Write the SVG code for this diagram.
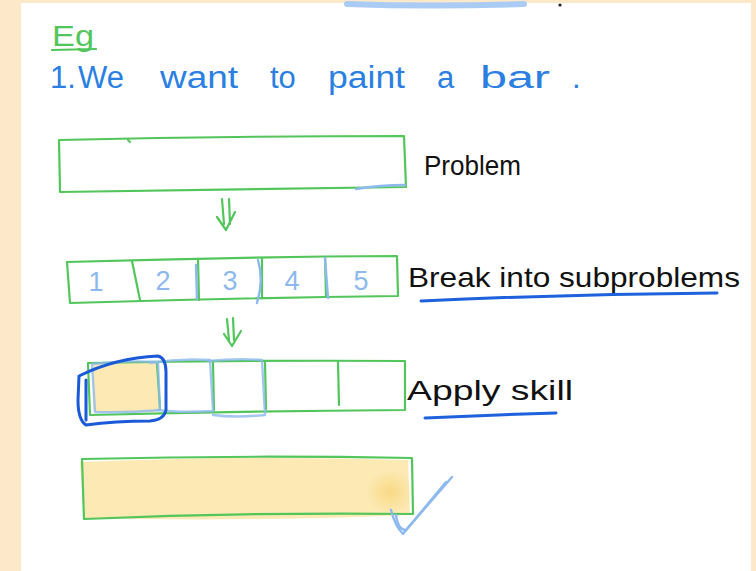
<svg xmlns="http://www.w3.org/2000/svg" width="756" height="571" viewBox="0 0 756 571">
  <style>
    .frame { fill: #fde8c9; }
    .sheet { fill: #ffffff; }
    .green { fill: none; stroke: #52c65b; stroke-width: 2.2; stroke-linecap: round; stroke-linejoin: round; }
    .lblue { fill: none; stroke: #8db9ef; stroke-width: 2.4; stroke-linecap: round; stroke-linejoin: round; }
    .dblue { fill: none; stroke: #1a5ad8; stroke-width: 3; stroke-linecap: round; stroke-linejoin: round; }
    .uline { fill: none; stroke: #1d62dc; stroke-width: 3; stroke-linecap: round; }
    .hand { font-family: "Liberation Sans", "DejaVu Sans", sans-serif; }
    .ink { fill: #111111; font-size: 28px; }
    .blue { fill: #2b7fe3; font-size: 31px; }
    .num { fill: #8db9ef; font-size: 27px; text-anchor: middle; }
    .paint { fill: #fce9b4; }
  </style>
  <defs>
    <radialGradient id="thickPaint" cx="0.5" cy="0.5" r="0.5">
      <stop offset="0" stop-color="#f8d77f" stop-opacity="0.9"/>
      <stop offset="1" stop-color="#f8d77f" stop-opacity="0"/>
    </radialGradient>
  </defs>

  <!-- page background with margin -->
  <rect class="frame" x="0" y="0" width="756" height="571"/>
  <rect class="sheet" x="21" y="3" width="730" height="568"/>

  <!-- stray marks along the top edge -->
  <path d="M347 4 Q430 7 524 4" fill="none" stroke="#a9cbf4" stroke-width="6" stroke-linecap="round"/>
  <circle cx="560" cy="5" r="1.6" fill="#222"/>

  <!-- heading -->
  <g id="heading">
    <text class="hand" x="52" y="46" fill="#52c65b" font-size="30" textLength="42" lengthAdjust="spacingAndGlyphs">Eg</text>
    <path class="green" d="M52 50 L96 49"/>
    <text class="hand blue" x="50" y="88" font-size="22">1.</text>
    <text class="hand blue" x="78" y="88">We</text>
    <text class="hand blue" x="160" y="88" textLength="78" lengthAdjust="spacingAndGlyphs">want</text>
    <text class="hand blue" x="270" y="88">to</text>
    <text class="hand blue" x="328" y="88" textLength="77" lengthAdjust="spacingAndGlyphs">paint</text>
    <text class="hand blue" x="437" y="88">a</text>
    <text class="hand blue" x="480" y="88" textLength="70" lengthAdjust="spacingAndGlyphs">bar</text>
    <text class="hand blue" x="572" y="88">.</text>
  </g>

  <!-- whole bar: the problem -->
  <g id="problem">
    <path class="green" d="M59 140 Q230 136 404 136 L406 187 Q230 190 60 192 Z"/>
    <path class="green" d="M128 140 L130 142"/>
    <path class="lblue" d="M356 189 Q380 185 405 185"/>
    <text class="hand ink" x="424" y="175" textLength="97" lengthAdjust="spacingAndGlyphs">Problem</text>
  </g>

  <!-- bar split into five subproblems -->
  <g id="subproblems">
    <path class="green" d="M67 262 Q230 257 397 256 L398 296 Q230 298 70 303 Z"/>
    <path class="green" d="M132 261 L140 300"/>
    <path class="green" d="M198 259 L199 300"/>
    <path class="green" d="M262 258 L262 298"/>
    <path class="green" d="M325 257 L326 297"/>
    <path class="lblue" d="M196 265 L197 299"/>
    <path class="lblue" d="M258 260 Q264 280 257 303"/>
    <path class="lblue" d="M325 258 L328 298"/>
    <text class="hand num" x="96" y="291">1</text>
    <text class="hand num" x="163" y="290">2</text>
    <text class="hand num" x="230" y="290">3</text>
    <text class="hand num" x="292" y="290">4</text>
    <text class="hand num" x="361" y="290">5</text>
    <text class="hand ink" x="408" y="287" textLength="332" lengthAdjust="spacingAndGlyphs">Break into subproblems</text>
    <path class="uline" d="M421 301 Q570 294 717 293"/>
  </g>

  <!-- skill applied cell by cell -->
  <g id="apply-skill">
    <rect class="paint" x="93" y="362" width="66" height="50" rx="4"/>
    <path class="green" d="M88 363 Q250 360 405 361 L405 410 Q250 411 90 415 Z"/>
    <path class="green" d="M157 364 L160 408"/>
    <path class="green" d="M213 363 L214 410"/>
    <path class="green" d="M265 362 L266 409"/>
    <path class="green" d="M338 362 L339 405"/>
    <path class="lblue" d="M92 364 Q125 360 158 362 L160 410 Q125 413 95 412 Z" opacity="0.8"/>
    <path class="lblue" d="M150 363 Q180 358 210 360 L213 411 Q180 413 158 410" opacity="0.8"/>
    <path class="lblue" d="M208 361 Q238 358 262 360 L265 415 Q235 418 213 415" opacity="0.8"/>
    <path class="dblue" d="M79 376 Q115 358 158 356 Q166 358 166 372 L166 410 Q164 420 150 421 Q115 421 86 425 Q78 420 78 400 Z"/>
    <path class="dblue" d="M86 380 L86 420"/>
    <text class="hand ink" x="407" y="400" textLength="166" lengthAdjust="spacingAndGlyphs">Apply skill</text>
    <path class="uline" d="M425 418 Q490 415 556 413"/>
  </g>

  <!-- finished, fully painted bar -->
  <g id="result">
    <path class="paint" d="M80 462 Q240 455 408 460 L410 515 Q240 522 84 518 Z"/>
    <ellipse cx="390" cy="492" rx="24" ry="22" fill="url(#thickPaint)"/>
    <path class="green" d="M82 459 Q245 455 412 458 L413 514 Q250 512 84 519 Z"/>
    <path class="lblue" d="M391 510 Q395 526 403 534 L446 482" stroke-width="3"/>
    <path class="lblue" d="M396 515 Q398 530 406 530 L452 477" stroke-width="2"/>
  </g>

  <!-- down arrows between the stages -->
  <g id="connectors">
    <path class="green" d="M222 199 L224 224 M229 199 L230 224 M217 217 L226 230 L235 212"/>
    <path class="green" d="M227 319 L229 340 M233 318 L234 340 M224 334 L232 346 L241 331"/>
  </g>
</svg>
